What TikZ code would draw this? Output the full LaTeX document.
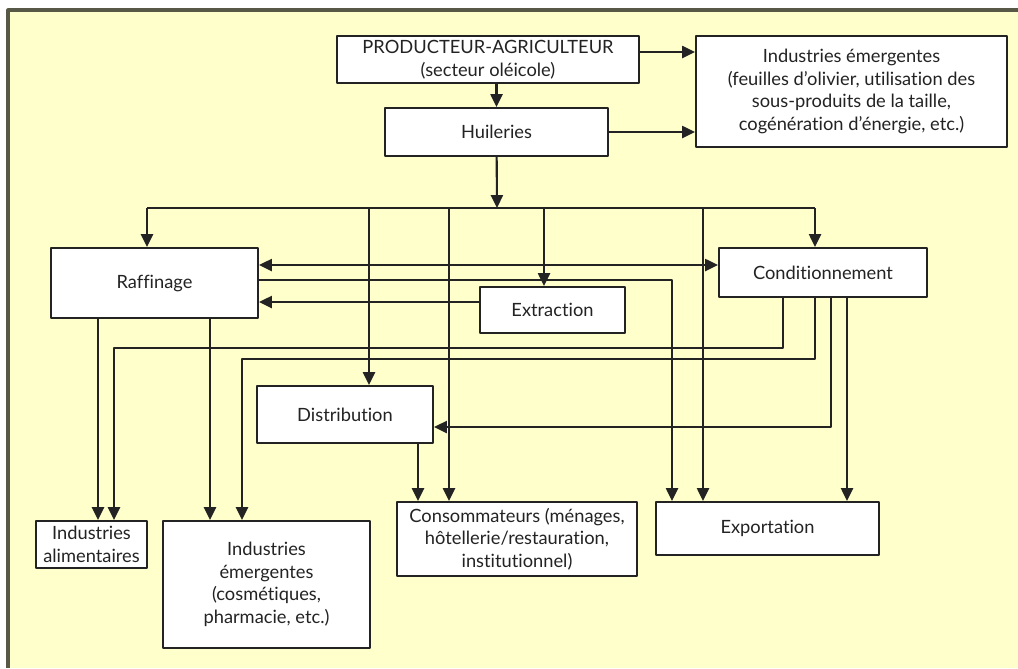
\documentclass[tikz,border=0pt]{standalone}
\usepackage{fontspec}
\setmainfont{Lato}[Ligatures=NoCommon]
\usetikzlibrary{arrows.meta}
\definecolor{fond}{RGB}{255,255,204}
\definecolor{cadre}{RGB}{88,88,70}
\definecolor{trait}{RGB}{35,35,35}
\begin{document}
\begin{tikzpicture}[x=0.25mm,y=-0.25mm,line join=round,>={Triangle[length=3.2mm,width=3mm]},line width=1.5pt,color=trait]
\tikzset{box/.style={draw,fill=white,align=center,inner sep=1pt,font=\fontsize{13}{16}\selectfont}}
\useasboundingbox (0,0) rectangle (1018,668);
\fill[white] (0,0) rectangle (1018,668);
\fill[fond] (8,10) rectangle (1018,668);
\draw[cadre,line width=2.2pt] (8,668) -- (8,10) -- (1018,10);
\node[box,minimum width=75.5mm,minimum height=11.75mm] (prod) at (488,59.5) {PRODUCTEUR-AGRICULTEUR\\(secteur oléicole)};
\node[box,minimum width=55.75mm,minimum height=12mm] (huil) at (496.5,132) {Huileries};
\node[box,minimum width=77.75mm,minimum height=27.75mm] (ie) at (851.5,91.5) {Industries émergentes\\(feuilles d’olivier, utilisation des\\sous-produits de la taille,\\cogénération d’énergie, etc.)};
\node[box,minimum width=51.75mm,minimum height=17.5mm] (raf) at (154.5,283) {Raffinage};
\node[box,minimum width=52mm,minimum height=12.25mm] (cond) at (823,272.5) {Conditionnement};
\node[box,minimum width=36.25mm,minimum height=11.5mm] (ext) at (552.5,310) {Extraction};
\node[box,minimum width=44mm,minimum height=14.25mm] (dist) at (345,414.5) {Distribution};
\node[box,minimum width=27.75mm,minimum height=11.75mm] (ia) at (91.5,544.5) {Industries\\alimentaires};
\node[box,minimum width=51.75mm,minimum height=31.75mm] (ie2) at (266.5,584.5) {Industries\\émergentes\\(cosmétiques,\\pharmacie, etc.)};
\node[box,minimum width=60mm,minimum height=18.5mm] (cons) at (517,539) {Consommateurs (ménages,\\hôtellerie/restauration,\\institutionnel)};
\node[box,minimum width=55.75mm,minimum height=13.25mm] (exp) at (767.5,528.5) {Exportation};
\coordinate (bus) at (497,208);
\coordinate (busL) at (147,208);
\coordinate (busR) at (815,208);
\draw[->] (prod.south -| huil) -- (huil);
\draw[->] (prod.east |- 0,52) -- (ie.west |- 0,52);
\draw[->] (huil) -- (ie.west |- huil);
\draw[->] (huil) -- (bus);
\draw (busL) -- (busR);
\foreach \x/\n in {147/raf,369/dist,449/cons,544/ext,703/exp,815/cond}
{
	\draw[->] (\x,208) -- (\n.north -| \x,0);
}
\draw[<->] (raf.east |- 0,265) -- (cond.west |- 0,265);
\draw[->] (raf.east |- 0,280) -| (exp.north -| 672,0);
\draw[->] (ext.west |- 0,302) -- (raf.east |- 0,302);
\draw[->] (raf.south -| 98,0) -- (ia.north -| 98,0);
\draw[->] (raf.south -| 210,0) -- (ie2.north -| 210,0);
\draw[->] (cond.south -| 783,0) |- (114,348) -- (ia.north -| 114,0);
\draw[->] (cond.south -| 815,0) |- (242,359) -- (ie2.north -| 242,0);
\draw[->] (cond.south -| 831,0) |- (dist.east |- 0,427);
\draw[->] (cond.south -| 847,0) -- (exp.north -| 847,0);
\draw[->] (dist.south -| 418,0) -- (cons.north -| 418,0);
\end{tikzpicture}
\end{document}
